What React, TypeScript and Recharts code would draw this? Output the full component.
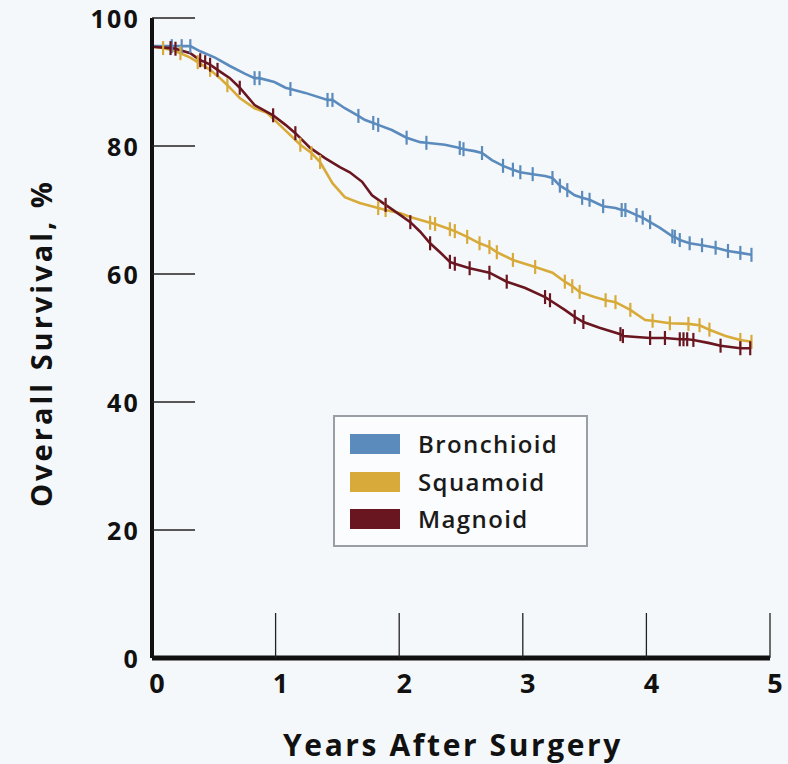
import React from "react";
import { LineChart, Line, XAxis, YAxis } from "recharts";

// [years after surgery, overall survival %, censored (1) or event (0)]
const bronchioid: [number, number, number][] = [
  [0, 95.6, 0], [0.16, 95.6, 1], [0.24, 95.6, 1], [0.31, 95.6, 1], [0.39, 94.8, 0],
  [0.51, 93.8, 0], [0.63, 92.5, 0], [0.75, 91.3, 0], [0.83, 90.6, 1], [0.87, 90.6, 1],
  [0.99, 90.0, 0], [1.08, 89.1, 0], [1.12, 88.9, 1], [1.24, 88.3, 0], [1.42, 87.2, 1],
  [1.46, 87.2, 1], [1.56, 85.9, 0], [1.67, 84.7, 1], [1.72, 84.1, 0], [1.79, 83.6, 1],
  [1.83, 83.3, 1], [1.94, 82.5, 0], [2.06, 81.3, 1], [2.17, 80.6, 0], [2.22, 80.5, 1],
  [2.37, 80.2, 0], [2.49, 79.7, 1], [2.52, 79.5, 1], [2.61, 79.2, 0], [2.67, 78.9, 1],
  [2.75, 77.8, 0], [2.84, 76.9, 1], [2.92, 76.3, 1], [2.98, 75.9, 1], [3.08, 75.6, 1],
  [3.18, 75.3, 0], [3.24, 75.0, 1], [3.3, 73.8, 1], [3.36, 73.1, 1], [3.42, 72.3, 0],
  [3.48, 71.9, 1], [3.54, 71.6, 1], [3.65, 70.6, 1], [3.75, 70.3, 0], [3.8, 70.0, 1],
  [3.83, 70.0, 1], [3.92, 69.2, 1], [3.97, 68.8, 1], [4.03, 68.1, 1], [4.11, 67.2, 0],
  [4.21, 65.9, 1], [4.23, 65.8, 1], [4.27, 65.3, 1], [4.35, 64.8, 1], [4.45, 64.5, 1],
  [4.56, 64.1, 1], [4.66, 63.6, 1], [4.76, 63.3, 1], [4.85, 63.0, 1],
];

const squamoid: [number, number, number][] = [
  [0, 95.5, 0], [0.09, 95.3, 1], [0.19, 94.8, 0], [0.23, 94.5, 1], [0.31, 93.8, 0],
  [0.37, 93.1, 1], [0.47, 91.9, 1], [0.55, 90.6, 0], [0.61, 89.5, 1], [0.71, 87.5, 0],
  [0.83, 85.9, 0], [0.93, 85.2, 0], [1.06, 82.8, 0], [1.2, 80.2, 1], [1.29, 78.9, 1],
  [1.36, 77.5, 1], [1.46, 74.2, 0], [1.56, 72.0, 0], [1.68, 71.1, 0], [1.83, 70.3, 1],
  [1.89, 70.0, 1], [2.01, 69.5, 0], [2.09, 68.9, 0], [2.25, 68.0, 1], [2.29, 67.8, 1],
  [2.41, 67.0, 1], [2.45, 66.7, 1], [2.55, 65.8, 1], [2.65, 64.8, 1], [2.73, 64.2, 1],
  [2.79, 63.4, 1], [2.92, 62.2, 1], [3.1, 61.1, 1], [3.24, 60.2, 0], [3.34, 58.8, 1],
  [3.4, 58.1, 1], [3.46, 57.2, 1], [3.58, 56.4, 0], [3.67, 55.9, 1], [3.75, 55.6, 1],
  [3.87, 54.4, 1], [3.99, 52.8, 0], [4.05, 52.7, 1], [4.19, 52.3, 1], [4.34, 52.2, 1],
  [4.43, 52.0, 1], [4.51, 51.3, 1], [4.64, 50.3, 0], [4.76, 49.7, 1], [4.85, 49.4, 1],
];

const magnoid: [number, number, number][] = [
  [0, 95.5, 0], [0.15, 95.3, 1], [0.19, 95.2, 1], [0.31, 94.5, 0], [0.39, 93.4, 1],
  [0.43, 93.1, 1], [0.47, 92.7, 1], [0.53, 91.9, 1], [0.63, 90.6, 0], [0.71, 89.1, 1],
  [0.83, 86.4, 0], [0.98, 84.8, 1], [1.08, 83.3, 0], [1.16, 82.0, 1], [1.28, 79.7, 0],
  [1.4, 78.1, 0], [1.52, 76.7, 0], [1.6, 75.9, 0], [1.7, 74.4, 0], [1.78, 72.3, 0],
  [1.89, 70.8, 1], [2.01, 69.2, 0], [2.09, 68.1, 1], [2.17, 66.6, 0], [2.25, 64.8, 1],
  [2.33, 63.4, 0], [2.41, 61.9, 1], [2.45, 61.6, 1], [2.57, 60.9, 1], [2.73, 60.2, 1],
  [2.87, 58.8, 1], [3.02, 57.8, 0], [3.18, 56.4, 1], [3.22, 55.9, 1], [3.34, 54.4, 0],
  [3.42, 53.3, 1], [3.49, 52.5, 1], [3.62, 51.6, 0], [3.79, 50.6, 1], [3.81, 50.3, 1],
  [4.03, 50.0, 1], [4.15, 50.0, 1], [4.27, 49.8, 1], [4.3, 49.8, 1], [4.33, 49.8, 1],
  [4.38, 49.7, 1], [4.51, 49.2, 0], [4.6, 48.8, 1], [4.76, 48.4, 1], [4.84, 48.4, 1],
];

const xTicks = [0, 1, 2, 3, 4, 5];
const yTicks = [0, 20, 40, 60, 80, 100];

const seriesNames = ["Bronchioid", "Squamoid", "Magnoid"];
const seriesColors = ["#5b8bbd", "#d8aa3a", "#6a1620"];

const FONT = "'Open Sans', 'DejaVu Sans', sans-serif";

const toRows = (arr: [number, number, number][]) =>
  arr.map(([x, y, c]) => ({ x, y, c }));

const makeDot = (color: string) => (props: any) => {
  const { cx, cy, payload, index } = props;
  if (!payload || !payload.c || cx == null || cy == null) return <g key={`d${index}`} />;
  return (
    <line
      key={`d${index}`}
      x1={cx}
      x2={cx}
      y1={cy - 7}
      y2={cy + 7}
      stroke={color}
      strokeWidth={2.2}
    />
  );
};

const YTick = (props: any) => {
  const { x, y, payload } = props;
  return (
    <g>
      {payload.value > 0 && (
        <line x1={x} x2={x + 43} y1={y} y2={y} stroke="#222" strokeWidth={1.3} />
      )}
      <text
        x={x - 12}
        y={y}
        dy={10}
        textAnchor="end"
        fontFamily={FONT}
        fontWeight={700}
        fontSize={25}
        letterSpacing={2.2}
        fill="#111"
      >
        {payload.value}
      </text>
    </g>
  );
};

const XTick = (props: any) => {
  const { x, y, payload } = props;
  return (
    <g>
      {payload.value > 0 && (
        <line x1={x} x2={x} y1={y} y2={y - 45} stroke="#222" strokeWidth={1.3} />
      )}
      <text
        x={x + 5}
        y={y}
        dy={35}
        textAnchor="middle"
        fontFamily={FONT}
        fontWeight={700}
        fontSize={27}
        fill="#111"
      >
        {payload.value}
      </text>
    </g>
  );
};

const LegendBox = () => (
  <div
    style={{
      position: "absolute",
      left: 333,
      top: 415,
      width: 251,
      height: 128,
      border: "2px solid #9a9fa5",
      background: "#fbfcfd",
    }}
  >
    {seriesNames.map((name, i) => (
      <div
        key={name}
        style={{
          position: "absolute",
          left: 15,
          top: 15 + i * 37.5,
          height: 24,
          display: "flex",
          alignItems: "center",
        }}
      >
        <div style={{ width: 50, height: 20, background: seriesColors[i] }} />
        <span
          style={{
            marginLeft: 18,
            fontFamily: FONT,
            fontWeight: 600,
            fontSize: 24,
            letterSpacing: 1.4,
            color: "#1a1a1a",
            lineHeight: "24px",
          }}
        >
          {name}
        </span>
      </div>
    ))}
  </div>
);

export default function App() {
  const series = [bronchioid, squamoid, magnoid];
  return (
    <div
      style={{
        position: "absolute",
        left: 0,
        top: 0,
        width: 788,
        height: 764,
        background: "#f5f8fa",
        overflow: "hidden",
      }}
    >
      <LineChart
        width={788}
        height={764}
        margin={{ top: 18, right: 18, bottom: 0, left: 0 }}
      >
        <XAxis
          type="number"
          dataKey="x"
          domain={[0, 5]}
          ticks={xTicks}
          tickSize={0}
          tickMargin={0}
          tickLine={false}
          axisLine={{ stroke: "#111", strokeWidth: 5 }}
          tick={<XTick />}
          height={106}
          label={(p: any) => {
            const vb = p.viewBox || { x: 152, y: 658, width: 618 };
            return (
              <text
                x={vb.x + vb.width / 2 - 8}
                y={vb.y + 98}
                textAnchor="middle"
                fontFamily={FONT}
                fontWeight={700}
                fontSize={30}
                letterSpacing={2.6}
                fill="#111"
              >
                Years After Surgery
              </text>
            );
          }}
        />
        <YAxis
          type="number"
          dataKey="y"
          domain={[0, 100]}
          ticks={yTicks}
          width={152}
          tickSize={0}
          tickMargin={0}
          tickLine={false}
          axisLine={{ stroke: "#111", strokeWidth: 4 }}
          tick={<YTick />}
          label={(p: any) => {
            const vb = p.viewBox || { x: 0, y: 18, width: 152, height: 640 };
            const cx = vb.x + 40;
            const cy = vb.y + vb.height / 2 + 5;
            return (
              <text
                x={cx}
                y={cy}
                transform={`rotate(-90 ${cx} ${cy})`}
                textAnchor="middle"
                dominantBaseline="central"
                fontFamily={FONT}
                fontWeight={700}
                fontSize={29}
                letterSpacing={3}
                fill="#111"
              >
                Overall Survival, %
              </text>
            );
          }}
        />
        {series.map((s, i) => (
          <Line
            key={seriesNames[i]}
            name={seriesNames[i]}
            data={toRows(s)}
            dataKey="y"
            type="linear"
            stroke={seriesColors[i]}
            strokeWidth={2.6}
            dot={makeDot(seriesColors[i])}
            activeDot={false}
            isAnimationActive={false}
          />
        ))}
      </LineChart>
      <LegendBox />
    </div>
  );
}
